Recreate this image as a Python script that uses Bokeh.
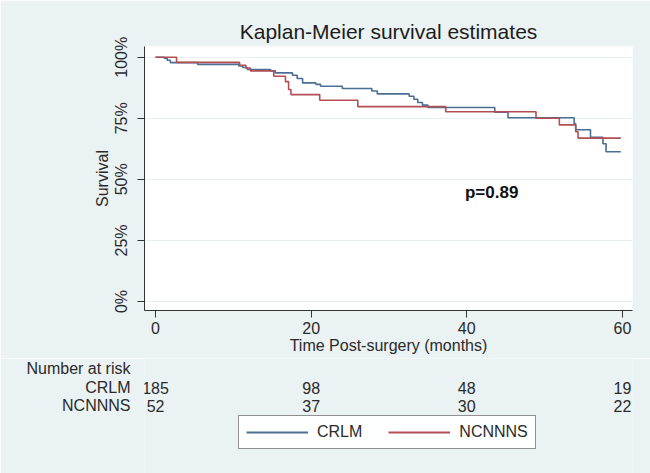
from bokeh.plotting import figure
from bokeh.layouts import column
from bokeh.models import Label, Legend, LegendItem, FixedTicker, Range1d
from bokeh.embed import file_html
from bokeh.resources import INLINE

# ---- data ----
crlm_time = [0, 1.1, 1.5, 1.9, 5.4, 10.7, 11.2, 11.8, 14.8, 15.4, 17.6, 18.2, 18.9,
             20.6, 21.2, 24.0, 27.8, 28.5, 32.6, 33.2, 33.7, 34.3, 35.0, 43.6, 45.3,
             53.8, 54.0, 55.9, 57.5, 57.9, 59.8]
crlm_surv = [1.0, 0.996, 0.988, 0.978, 0.971, 0.964, 0.958, 0.950, 0.944, 0.936, 0.926,
             0.913, 0.895, 0.889, 0.881, 0.872, 0.862, 0.850, 0.840, 0.828, 0.815, 0.804,
             0.794, 0.775, 0.752, 0.728, 0.703, 0.672, 0.646, 0.613, 0.613]

ncn_time = [0, 2.7, 10.8, 11.6, 12.2, 15.2, 16.7, 17.1, 17.4, 21.1, 26.0, 37.3, 48.9,
            51.9, 54.0, 54.3, 59.8]
ncn_surv = [1.0, 0.979, 0.967, 0.956, 0.944, 0.922, 0.900, 0.868, 0.847, 0.824, 0.798,
            0.777, 0.750, 0.723, 0.695, 0.669, 0.669]

x_ticks = [0, 20, 40, 60]
y_ticks = [0, 0.25, 0.5, 0.75, 1.0]
y_tick_labels = ["0%", "25%", "50%", "75%", "100%"]

risk_header = "Number at risk"
risk_groups = ["CRLM", "NCNNNS"]
crlm_risk = [185, 98, 48, 19]
ncn_risk = [52, 37, 30, 22]
p_value_text = "p=0.89"

BLUE = "#4a6f93"
RED = "#b24e55"
BG = "#eaf2f3"
FONT = "Liberation Sans"
TXT = "#2a2a2a"

# ---- layout (pixels) ----
W = 650
H1 = 358
H2 = 473 - H1
BL, BR, BT, BB = 144, 18, 46, H1 - 310
X0, X1 = -1.42, 61.3
Y0, Y1 = -0.037, 1.044

p = figure(width=W, height=H1, output_backend="svg", toolbar_location=None,
           x_range=Range1d(X0, X1), y_range=Range1d(Y0, Y1),
           min_border_left=BL, min_border_right=BR, min_border_top=BT,
           min_border_bottom=BB, title="Kaplan-Meier survival estimates")

p.border_fill_color = BG
p.background_fill_color = "white"
p.outline_line_color = None

p.title.align = "center"
p.title.text_font = FONT
p.title.text_font_size = "21px"
p.title.text_font_style = "normal"
p.title.text_color = "#1c1c1c"
p.title.standoff = 8

# axes
p.xaxis.ticker = FixedTicker(ticks=x_ticks)
p.yaxis.ticker = FixedTicker(ticks=y_ticks)
p.yaxis.major_label_overrides = {t: l for t, l in zip(y_ticks, y_tick_labels)}
p.yaxis.major_label_orientation = "vertical"
p.xaxis.axis_label = "Time Post-surgery (months)"
p.yaxis.axis_label = "Survival"
for ax in (p.xaxis[0], p.yaxis[0]):
    ax.axis_line_color = "#333333"
    ax.axis_line_width = 1
    ax.major_tick_line_color = "#333333"
    ax.major_tick_out = 7
    ax.major_tick_in = 0
    ax.minor_tick_line_color = None
    ax.major_label_text_font = FONT
    ax.major_label_text_font_size = "16px"
    ax.major_label_text_color = TXT
    ax.axis_label_text_font = FONT
    ax.axis_label_text_font_size = "16px"
    ax.axis_label_text_font_style = "normal"
    ax.axis_label_text_color = TXT
p.xaxis.major_label_standoff = 4
p.xaxis.axis_label_standoff = 0
p.yaxis.major_label_standoff = 7
p.yaxis.axis_label_standoff = 0

p.xgrid.grid_line_color = None
p.ygrid.grid_line_color = "#e8eff1"
p.ygrid.grid_line_width = 1

r1 = p.step(crlm_time, crlm_surv, mode="after", line_color=BLUE, line_width=1.6)
r2 = p.step(ncn_time, ncn_surv, mode="after", line_color=RED, line_width=1.6)

p.add_layout(Label(x=43.2, y=0.447, text=p_value_text, text_align="center",
                   text_baseline="middle", text_font=FONT, text_font_size="17px",
                   text_font_style="bold", text_color="#111111"))

# ---- lower panel: number at risk + legend, sharing the time axis ----
row_pos = [10, 29, 47]   # pixel rows below the upper panel
q = figure(width=W, height=H2, output_backend="svg", toolbar_location=None,
           x_range=p.x_range, y_range=Range1d(H2, 0), x_axis_type=None,
           min_border_left=BL, min_border_right=BR, min_border_top=0,
           min_border_bottom=0)
q.border_fill_color = BG
q.background_fill_color = BG
q.outline_line_color = None
q.xgrid.visible = False
q.ygrid.visible = False

qa = q.yaxis[0]
qa.ticker = FixedTicker(ticks=row_pos)
qa.major_label_overrides = {pos: txt for pos, txt in zip(row_pos, [risk_header] + risk_groups)}
qa.axis_line_color = None
qa.major_tick_line_color = None
qa.minor_tick_line_color = None
qa.major_tick_out = 0
qa.major_label_standoff = 14
qa.major_label_text_font = FONT
qa.major_label_text_font_size = "16px"
qa.major_label_text_color = TXT

for yy, vals in zip(row_pos[1:], [crlm_risk, ncn_risk]):
    for t, v in zip(x_ticks, vals):
        q.add_layout(Label(x=t, y=yy, text=str(v), text_align="center",
                           text_baseline="middle", text_font=FONT,
                           text_font_size="16px", text_color=TXT))

# legend keys: same series, hidden in this panel (only their legend glyphs show)
k1 = q.step(crlm_time, crlm_surv, mode="after", line_color=BLUE, line_width=1.8,
            visible=False)
k2 = q.step(ncn_time, ncn_surv, mode="after", line_color=RED, line_width=1.8,
            visible=False)
legend = Legend(items=[LegendItem(label="CRLM", renderers=[k1]),
                       LegendItem(label="NCNNNS", renderers=[k2])],
                orientation="horizontal", location=(238 - BL, 24), margin=0,
                padding=7, spacing=26, glyph_width=62, glyph_height=16,
                label_height=16, label_standoff=9, border_line_color="#222222",
                border_line_width=1.3, background_fill_color="white",
                label_text_font=FONT, label_text_font_size="16px",
                label_text_color=TXT)
q.add_layout(legend)

layout = column(p, q, spacing=0)
open("out.html", "w").write(file_html(layout, INLINE))
